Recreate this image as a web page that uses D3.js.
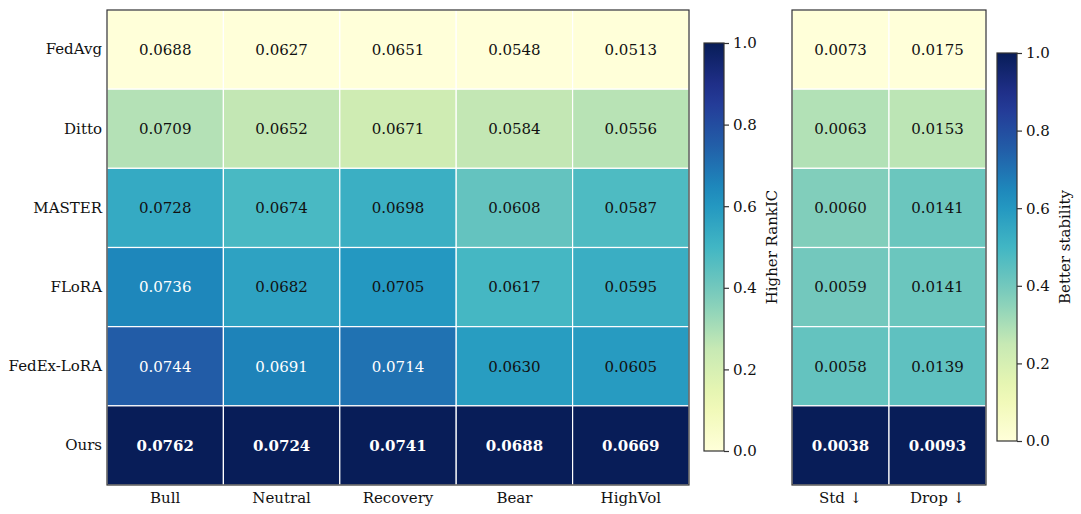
<!DOCTYPE html>
<html>
<head>
<meta charset="utf-8">
<script src="https://cdn.jsdelivr.net/npm/d3@7"></script>
<style>
  body { margin: 0; background: #fff; }
  text { font-family: "DejaVu Serif", serif; fill: #111; }
</style>
</head>
<body>
<div id="chart"></div>
<script>
// Row labels (methods)
const methods = ["FedAvg", "Ditto", "MASTER", "FLoRA", "FedEx-LoRA", "Ours"];

// RankIC by market regime
const regimes = ["Bull", "Neutral", "Recovery", "Bear", "HighVol"];
const bull     = [0.0688, 0.0709, 0.0728, 0.0736, 0.0744, 0.0762];
const neutral  = [0.0627, 0.0652, 0.0674, 0.0682, 0.0691, 0.0724];
const recovery = [0.0651, 0.0671, 0.0698, 0.0705, 0.0714, 0.0741];
const bear     = [0.0548, 0.0584, 0.0608, 0.0617, 0.0630, 0.0688];
const highVol  = [0.0513, 0.0556, 0.0587, 0.0595, 0.0605, 0.0669];

// Stability metrics (lower is better)
const stabCols = ["Std ↓", "Drop ↓"];
const stdVals  = [0.0073, 0.0063, 0.0060, 0.0059, 0.0058, 0.0038];
const dropVals = [0.0175, 0.0153, 0.0141, 0.0141, 0.0139, 0.0093];

const cbTicks = [0.0, 0.2, 0.4, 0.6, 0.8, 1.0];

const W = 1081, H = 514;
const FONT = 15;

// matplotlib-style YlGnBu: linear through the 9 ColorBrewer stops
const ylgnbu = d3.scaleLinear()
    .domain(d3.range(9).map(i => i / 8))
    .range(d3.schemeYlGnBu[9])
    .interpolate(d3.interpolateRgb)
    .clamp(true);

const svg = d3.select("#chart").append("svg")
    .attr("width", W)
    .attr("height", H);

const defs = svg.append("defs");
const grad = defs.append("linearGradient")
    .attr("id", "cbgrad")
    .attr("x1", 0).attr("y1", 1).attr("x2", 0).attr("y2", 0);
d3.range(0, 1.0001, 0.05).forEach(t => {
    grad.append("stop").attr("offset", t).attr("stop-color", ylgnbu(t));
});

// Build cell tables with per-column min-max normalisation
function buildCells(cols, series, higherBetter) {
    let cells = [];
    cols.forEach((c, j) => {
        const vals = series[j];
        const lo = d3.min(vals), hi = d3.max(vals);
        vals.forEach((v, i) => {
            let t = (v - lo) / (hi - lo);
            if (!higherBetter) t = 1 - t;
            cells.push({ row: methods[i], col: c, value: v, t: t, best: i === methods.length - 1 });
        });
    });
    return cells;
}

function drawHeatmap(cfg) {
    const g = svg.append("g");

    const x = d3.scaleBand().domain(cfg.cols).range([cfg.x0, cfg.x1]);
    const y = d3.scaleBand().domain(methods).range([10, 485]);

    g.selectAll("rect.cell")
        .data(cfg.cells)
        .enter().append("rect")
        .attr("class", "cell")
        .attr("x", d => x(d.col))
        .attr("y", d => y(d.row))
        .attr("width", x.bandwidth())
        .attr("height", y.bandwidth())
        .attr("fill", d => ylgnbu(d.t))
        .attr("stroke", "#fff")
        .attr("stroke-width", 1.2);

    g.selectAll("text.val")
        .data(cfg.cells)
        .enter().append("text")
        .attr("class", "val")
        .attr("x", d => x(d.col) + x.bandwidth() / 2)
        .attr("y", d => y(d.row) + y.bandwidth() / 2)
        .attr("dy", "0.36em")
        .attr("text-anchor", "middle")
        .style("font-size", FONT + "px")
        .style("font-weight", d => d.best ? "bold" : "normal")
        .style("fill", d => d.t > 0.62 ? "#fff" : "#111")
        .text(d => d.value.toFixed(4));

    // frame
    g.append("rect")
        .attr("x", cfg.x0)
        .attr("y", 10)
        .attr("width", cfg.x1 - cfg.x0)
        .attr("height", 475)
        .attr("fill", "none")
        .attr("stroke", "#333")
        .attr("stroke-width", 1.2);

    const xAxis = g.append("g")
        .attr("transform", "translate(0,485)")
        .call(d3.axisBottom(x).tickSize(0).tickPadding(7));
    xAxis.select(".domain").remove();
    xAxis.selectAll("text")
        .style("font-size", FONT + "px")
        .style("font-family", "DejaVu Serif")
        .attr("fill", "#111");

    if (cfg.rowLabels) {
        const yAxis = g.append("g")
            .attr("transform", `translate(${cfg.x0},0)`)
            .call(d3.axisLeft(y).tickSize(0).tickPadding(5));
        yAxis.select(".domain").remove();
        yAxis.selectAll("text")
            .style("font-size", FONT + "px")
            .style("font-family", "DejaVu Serif")
            .attr("fill", "#111");
    }
}

function drawColorbar(cfg) {
    const g = svg.append("g");
    const s = d3.scaleLinear().domain([0, 1]).range([cfg.y1, cfg.y0]);

    g.append("rect")
        .attr("x", cfg.x)
        .attr("y", cfg.y0)
        .attr("width", 20)
        .attr("height", cfg.y1 - cfg.y0)
        .attr("fill", "url(#cbgrad)")
        .attr("stroke", "#333")
        .attr("stroke-width", 1.2);

    const ax = g.append("g")
        .attr("transform", `translate(${cfg.x + 20},0)`)
        .call(d3.axisRight(s).tickValues(cbTicks).tickFormat(d3.format(".1f")).tickSize(5).tickPadding(4));
    ax.select(".domain").remove();
    ax.selectAll("line").attr("stroke", "#333").attr("stroke-width", 1.2);
    ax.selectAll("text")
        .style("font-size", FONT + "px")
        .style("font-family", "DejaVu Serif")
        .attr("fill", "#111");

    g.append("text")
        .attr("transform", `translate(${cfg.labelX},${(cfg.y0 + cfg.y1) / 2}) rotate(-90)`)
        .attr("text-anchor", "middle")
        .attr("dy", "0.36em")
        .style("font-size", FONT + "px")
        .text(cfg.label);
}

drawHeatmap({
    cols: regimes,
    cells: buildCells(regimes, [bull, neutral, recovery, bear, highVol], true),
    x0: 107, x1: 689,
    rowLabels: true
});

drawColorbar({ x: 704, y0: 43, y1: 451, labelX: 772, label: "Higher RankIC" });

drawHeatmap({
    cols: stabCols,
    cells: buildCells(stabCols, [stdVals, dropVals], false),
    x0: 792, x1: 986,
    rowLabels: false
});

drawColorbar({ x: 997, y0: 53, y1: 441, labelX: 1065, label: "Better stability" });
</script>
</body>
</html>
